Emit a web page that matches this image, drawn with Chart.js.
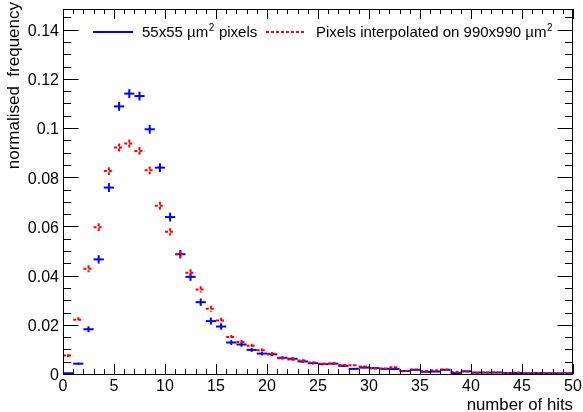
<!DOCTYPE html>
<html>
<head>
<meta charset="utf-8">
<script src="https://cdn.jsdelivr.net/npm/chart.js@4/dist/chart.umd.min.js"></script>
<style>
  body { margin: 0; background: #fff; }
  #wrap { width: 583px; height: 412px; position: relative; }
</style>
</head>
<body>
<div id="wrap"><canvas id="hitsChart"></canvas></div>
<script>

// Data

const binCentres = [0.5, 1.5, 2.5, 3.5, 4.5, 5.5, 6.5, 7.5, 8.5, 9.5,
  10.5, 11.5, 12.5, 13.5, 14.5, 15.5, 16.5, 17.5, 18.5, 19.5,
  20.5, 21.5, 22.5, 23.5, 24.5, 25.5, 26.5, 27.5, 28.5, 29.5,
  30.5, 31.5, 32.5, 33.5, 34.5, 35.5, 36.5, 37.5, 38.5, 39.5,
  40.5, 41.5, 42.5, 43.5, 44.5, 45.5, 46.5, 47.5, 48.5, 49.5];

const pixelValues = [0.0003, 0.0042, 0.0182, 0.0466, 0.0758, 0.1088, 0.1140, 0.1130, 0.0995, 0.0839,
  0.0638, 0.0487, 0.0395, 0.0292, 0.0215, 0.0193, 0.0128, 0.0120, 0.0098, 0.0083,
  0.0080, 0.0066, 0.0062, 0.0051, 0.0044, 0.0040, 0.0042, 0.0033, 0.0021, 0.0026,
  0.0024, 0.0021, 0.0020, 0.0012, 0.0017, 0.0009, 0.0010, 0.0017, 0.0004, 0.0011,
  0.0006, 0.0006, 0.0006, 0.0004, 0.0004, 0.0003, 0.0004, 0.0003, 0.0003, 0.0003];

const pixelErrors = [0.0001, 0.0004, 0.0012, 0.0017, 0.0018, 0.0018, 0.0018, 0.0018, 0.0018, 0.0018,
  0.0018, 0.0017, 0.0016, 0.0015, 0.0014, 0.0013, 0.0010, 0.0009, 0.0008, 0.0007,
  0.0007, 0.0006, 0.0006, 0.0005, 0.0005, 0.0004, 0.0004, 0.0004, 0.0003, 0.0003,
  0.0003, 0.0003, 0.0003, 0.0002, 0.0002, 0.0002, 0.0002, 0.0002, 0.0001, 0.0002,
  0.0001, 0.0001, 0.0001, 0.0001, 0.0001, 0.0001, 0.0001, 0.0001, 0.0001, 0.0001];

const interpValues = [0.0075, 0.0221, 0.0428, 0.0597, 0.0825, 0.0921, 0.0937, 0.0907, 0.0828, 0.0684,
  0.0578, 0.0487, 0.0412, 0.0344, 0.0265, 0.0218, 0.0150, 0.0130, 0.0115, 0.0097,
  0.0082, 0.0064, 0.0059, 0.0055, 0.0047, 0.0042, 0.0043, 0.0037, 0.0036, 0.0030,
  0.0022, 0.0022, 0.0027, 0.0012, 0.0018, 0.0012, 0.0015, 0.0018, 0.0008, 0.0010,
  0.0004, 0.0005, 0.0006, 0.0004, 0.0006, 0.0003, 0.0004, 0.0003, 0.0002, 0.0003];

const interpErrors = [0.0006, 0.0010, 0.0014, 0.0016, 0.0016, 0.0016, 0.0016, 0.0016, 0.0016, 0.0016,
  0.0015, 0.0015, 0.0014, 0.0013, 0.0012, 0.0011, 0.0009, 0.0008, 0.0008, 0.0007,
  0.0006, 0.0005, 0.0005, 0.0005, 0.0004, 0.0004, 0.0004, 0.0003, 0.0003, 0.0003,
  0.0003, 0.0003, 0.0003, 0.0002, 0.0002, 0.0002, 0.0002, 0.0002, 0.0001, 0.0001,
  0.0001, 0.0001, 0.0001, 0.0001, 0.0001, 0.0001, 0.0001, 0.0001, 0.0001, 0.0001];

const xTickLabels = [0, 5, 10, 15, 20, 25, 30, 35, 40, 45, 50];
const yTickLabels = ["0", "0.02", "0.04", "0.06", "0.08", "0.1", "0.12", "0.14"];

const FONT = "Liberation Sans, Arial, Helvetica, sans-serif";

function toPoints(values){
  return values.map((v, i) => ({ x: binCentres[i], y: v }));
}

// Error bar crosses, drawn from each dataset's points

const errorBars = {
  id: "errorBars",
  afterDatasetsDraw(chart){
    const ctx = chart.ctx;
    const xs = chart.scales.x;
    const ys = chart.scales.y;
    const area = chart.chartArea;

    ctx.save();
    ctx.beginPath();
    ctx.rect(area.left, area.top - 1, area.right - area.left, area.bottom - area.top + 1);
    ctx.clip();

    chart.data.datasets.forEach((ds, di) => {
      const meta = chart.getDatasetMeta(di);
      ctx.strokeStyle = ds.borderColor;
      ctx.lineWidth = 2;
      ctx.setLineDash(ds.borderDash || []);

      meta.data.forEach((pt, i) => {
        const xv = ds.data[i].x;
        const yv = ds.data[i].y;
        const err = ds.errors[i];
        const x1 = xs.getPixelForValue(xv - 0.5);
        const x2 = xs.getPixelForValue(xv + 0.5);
        const yTop = ys.getPixelForValue(yv + err);
        const yBot = ys.getPixelForValue(yv - err);

        ctx.beginPath();
        ctx.moveTo(x1, pt.y);
        ctx.lineTo(x2, pt.y);
        ctx.stroke();

        if(yBot - yTop > 1){
          ctx.beginPath();
          ctx.moveTo(pt.x, yTop);
          ctx.lineTo(pt.x, yBot);
          ctx.stroke();
        }
      });
    });

    ctx.restore();
  }
};

// draws "a²b" with a small raised 2
function superText(ctx, text, x, y, size){
  const parts = text.split("\u00b2");
  ctx.font = size + "px " + FONT;
  ctx.fillText(parts[0], x, y);
  let cx = x + ctx.measureText(parts[0]).width;
  if(parts.length > 1){
    ctx.font = Math.round(size * 0.68) + "px " + FONT;
    ctx.fillText("2", cx + 0.5, y - 6);
    cx += ctx.measureText("2").width + 1;
    ctx.font = size + "px " + FONT;
    ctx.fillText(parts[1], cx, y);
  }
}

// Frame, inward ticks, labels, titles and legend (ROOT look)

const rootFrame = {
  id: "rootFrame",
  afterDraw(chart){
    const ctx = chart.ctx;
    const xs = chart.scales.x;
    const ys = chart.scales.y;
    const a = chart.chartArea;

    ctx.save();
    ctx.strokeStyle = "#000";
    ctx.lineWidth = 1;
    ctx.setLineDash([]);
    ctx.strokeRect(a.left + 0.5, a.top + 0.5, a.right - a.left - 1, a.bottom - a.top);

    // x ticks
    for(let v = 0; v <= 50; v++){
      const px = Math.round(xs.getPixelForValue(v)) + 0.5;
      const len = v % 5 === 0 ? 10 : 5;
      ctx.beginPath();
      ctx.moveTo(px, a.bottom);
      ctx.lineTo(px, a.bottom - len);
      ctx.moveTo(px, a.top);
      ctx.lineTo(px, a.top + len);
      ctx.stroke();
    }

    // y ticks
    for(let k = 0; k <= 29; k++){
      const v = k * 0.005;
      if(v > ys.max) break;
      const py = Math.round(ys.getPixelForValue(v)) + 0.5;
      const len = k % 4 === 0 ? 15.5 : 8;
      ctx.beginPath();
      ctx.moveTo(a.left, py);
      ctx.lineTo(a.left + len, py);
      ctx.moveTo(a.right, py);
      ctx.lineTo(a.right - len, py);
      ctx.stroke();
    }

    ctx.fillStyle = "#000";
    ctx.font = "16px " + FONT;

    // x labels
    ctx.textAlign = "center";
    ctx.textBaseline = "middle";
    xTickLabels.forEach(v => {
      ctx.fillText(String(v), xs.getPixelForValue(v), 387);
    });

    // y labels
    ctx.textAlign = "right";
    yTickLabels.forEach(t => {
      const py = ys.getPixelForValue(parseFloat(t)) + 2;
      ctx.fillText(t, 59, py);
    });

    // axis titles
    ctx.font = "16.8px " + FONT;
    ctx.textAlign = "right";
    ctx.textBaseline = "alphabetic";
    ctx.fillText("number of hits", a.right, 410);

    ctx.save();
    ctx.translate(19, 2);
    ctx.rotate(-Math.PI / 2);
    ctx.font = "17px " + FONT;
    ctx.textAlign = "right";
    ctx.fillText("normalised  frequency", 0, 0);
    ctx.restore();

    // legend
    const items = [
      { x: 93, textX: 142 },
      { x: 266, textX: 316 }
    ];
    ctx.textAlign = "left";
    ctx.textBaseline = "alphabetic";
    chart.data.datasets.forEach((ds, i) => {
      const it = items[i];
      ctx.strokeStyle = ds.borderColor;
      ctx.lineWidth = 2;
      ctx.setLineDash(ds.borderDash || []);
      ctx.beginPath();
      ctx.moveTo(it.x, 32);
      ctx.lineTo(it.x + 40, 32);
      ctx.stroke();
      ctx.fillStyle = "#000";
      superText(ctx, ds.label, it.textX, 37, 15);
    });

    ctx.restore();
  }
};

// Chart

const ctx = document.getElementById("hitsChart");

new Chart(ctx, {

  type: "scatter",

  data: {
    datasets: [
      {
        label: "55x55 \u00b5m\u00b2 pixels",
        data: toPoints(pixelValues),
        errors: pixelErrors,
        borderColor: "#0000ff",
        backgroundColor: "#0000ff",
        pointRadius: 0,
        showLine: false
      },
      {
        label: "Pixels interpolated on 990x990 \u00b5m\u00b2",
        data: toPoints(interpValues),
        errors: interpErrors,
        borderColor: "#ff0000",
        backgroundColor: "#ff0000",
        borderDash: [3, 2],
        pointRadius: 0,
        showLine: false
      }
    ]
  },

  options: {
    responsive: true,
    maintainAspectRatio: false,
    animation: false,
    layout: {
      padding: { left: 63, right: 10, top: 9, bottom: 38 }
    },
    plugins: {
      legend: { display: false },
      tooltip: { enabled: false }
    },
    scales: {
      x: { type: "linear", min: 0, max: 50, display: false },
      y: { type: "linear", min: 0, max: 0.1484, display: false }
    }
  },

  plugins: [errorBars, rootFrame]

});
</script>
</body>
</html>
